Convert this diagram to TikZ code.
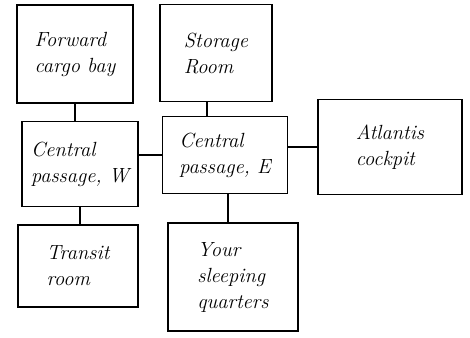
\documentclass[tikz,border=0pt]{standalone}
\usepackage{tikz}
\usetikzlibrary{positioning}
\usetikzlibrary{calc}

\begin{document}
\begin{tikzpicture}[x=1pt,y=-1pt,line width=1.3pt,
  room/.style={draw, align=left, inner sep=2pt,
    font=\itshape\fontsize{20.5}{26}\selectfont}]

  % fix the margins
  \useasboundingbox (0,0) rectangle (470,337);

  % Rooms
  \node[room, minimum width=116, minimum height=98] (fwd)  at (75,54)   {Forward\\cargo bay};
  \node[room, minimum width=112, minimum height=97] (stor) at (216,53)  {Storage\\Room};
  \node[room, minimum width=116, minimum height=85] (cpw)  at (80,164)  {Central\\passage, W};
  \node[room, minimum width=125, minimum height=77] (cpe)  at (225,155) {Central\\passage, E};
  \node[room, minimum width=144, minimum height=95] (atl)  at (390,147) {Atlantis\\cockpit};
  \node[room, minimum width=120, minimum height=82] (tra)  at (78,266)  {Transit\\room};
  \node[room, minimum width=130, minimum height=108] (slp) at (233,277) {Your\\sleeping\\quarters};

  % Doors between rooms
  \draw (fwd.south) -- (fwd.south |- cpw.north);
  \draw ([xshift=-9]stor.south) -- ([xshift=-9]stor.south |- cpe.north);
  \draw (cpw.east |- cpe.west) -- (cpe.west);
  \draw (cpe.east |- atl.west) -- (atl.west);
  \draw (cpw.south) -- (cpw.south |- tra.north);
  \draw ([xshift=3]cpe.south) -- ([xshift=3]cpe.south |- slp.north);

\end{tikzpicture}
\end{document}
